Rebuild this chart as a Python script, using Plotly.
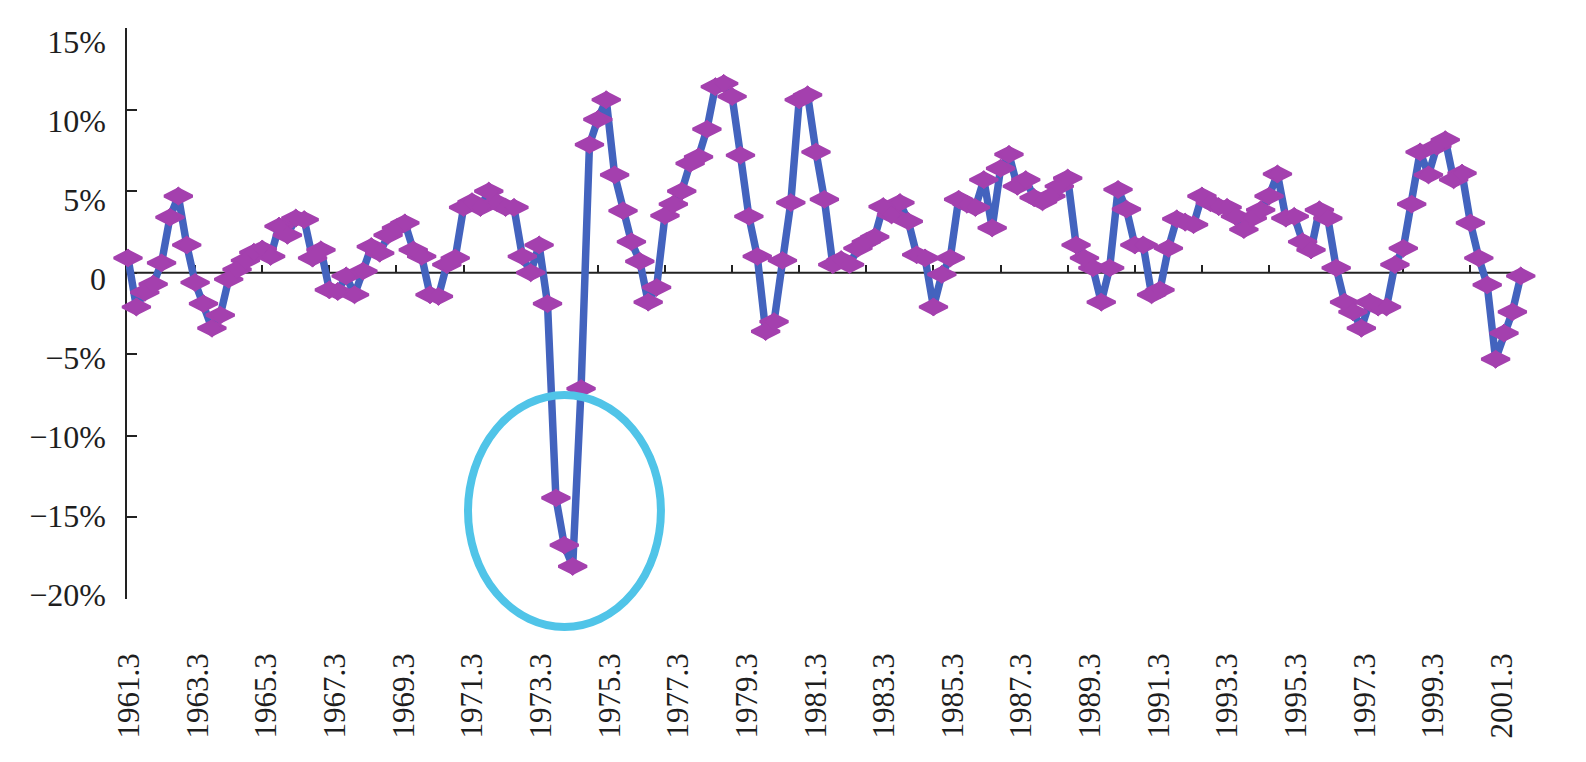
import plotly.graph_objects as go

# Quarterly growth rate (%), starting 1961.3
values = [
    0.9, -2.1, -1.2, -0.7, 0.6, 3.4, 4.7, 1.7, -0.6, -1.9,
    -3.4, -2.6, -0.4, 0.2, 0.75, 1.25, 1.45, 1.0, 2.85, 2.3,
    3.35, 3.25, 0.9, 1.4, -1.05, -1.15, -0.2, -1.35, 0.1, 1.6,
    1.2, 2.3, 2.75, 3.05, 1.4, 1.0, -1.35, -1.45, 0.5, 0.9,
    4.0, 4.35, 4.0, 5.0, 4.3, 4.0, 4.0, 1.0, 0.0, 1.7,
    -1.9, -13.8, -16.7, -18.0, -7.1, 7.85, 9.4, 10.6, 6.0, 3.8,
    1.9, 0.7, -1.8, -0.9, 3.5, 4.2, 5.0, 6.7, 7.1, 8.8,
    11.4, 11.6, 10.8, 7.2, 3.45, 1.0, -3.6, -3.0, 0.75, 4.3,
    10.6, 10.9, 7.4, 4.5, 0.5, 0.8, 0.5, 1.5, 1.9, 2.2,
    4.05, 3.55, 4.3, 3.15, 1.1, 0.9, -2.1, -0.1, 0.9, 4.5,
    4.2, 4.0, 5.7, 2.75, 6.4, 7.25, 5.3, 5.7, 4.6, 4.35,
    4.7, 5.3, 5.8, 1.7, 0.9, 0.3, -1.8, 0.3, 5.1, 3.9,
    1.7, 1.7, -1.35, -1.05, 1.5, 3.3, 3.1, 2.95, 4.7, 4.3,
    4.05, 4.0, 3.45, 2.65, 3.35, 3.85, 4.7, 6.05, 3.35, 3.45,
    1.9, 1.4, 3.85, 3.35, 0.3, -1.8, -2.4, -3.4, -1.8, -2.1,
    -2.1, 0.5, 1.5, 4.2, 7.4, 6.0, 7.75, 8.15, 5.7, 6.1,
    3.05, 0.9, -0.75, -5.3, -3.7, -2.4, -0.2,
]
quarter_index = list(range(len(values)))

x_tick_labels = ["1961.3", "1963.3", "1965.3", "1967.3", "1969.3", "1971.3",
                 "1973.3", "1975.3", "1977.3", "1979.3", "1981.3", "1983.3",
                 "1985.3", "1987.3", "1989.3", "1991.3", "1993.3", "1995.3",
                 "1997.3", "1999.3", "2001.3"]
x_tick_pos = [8 * k for k in range(len(x_tick_labels))]

y_tick_vals = [15, 10, 5, 0, -5, -10, -15, -20]
y_tick_text = ["15%", "10%", "5%", "0", "\u22125%", "\u221210%", "\u221215%", "\u221220%"]

LINE = "#4363BE"
MARK = "#A440AE"
AX = "#222222"
SERIF = "Liberation Serif, Times New Roman, serif"
XFONT = dict(family=SERIF, size=31, color="#1e1e1e")
YFONT = dict(family=SERIF, size=32, color="#1e1e1e")

fig = go.Figure()
fig.add_trace(go.Scatter(
    x=quarter_index, y=values, mode="lines+markers",
    line=dict(color=LINE, width=7.5),
    marker=dict(symbol="diamond-wide", size=20, color=MARK,
                line=dict(color=MARK, width=3)),
    cliponaxis=False, showlegend=False,
))
# second, more compact diamond on the same points to give the markers their chunky look
fig.add_trace(go.Scatter(
    x=quarter_index, y=values, mode="markers",
    marker=dict(symbol="diamond", size=14, color=MARK,
                line=dict(color=MARK, width=1)),
    cliponaxis=False, showlegend=False, hoverinfo="skip",
))

fig.update_layout(
    width=1586, height=762, autosize=False,
    margin=dict(l=126, r=56, t=28, b=163),
    paper_bgcolor="white", plot_bgcolor="white",
    showlegend=False,
    xaxis=dict(
        range=[-0.238, 167.1], anchor="free", position=20 / 35, side="top",
        showline=False,
        ticks="outside", ticklen=8, tickwidth=2, tickcolor=AX,
        tickvals=[8 * k for k in range(1, 21)], showticklabels=False,
        showgrid=False, zeroline=False, layer="below traces",
    ),
    xaxis2=dict(
        overlaying="x", anchor="y", side="bottom",
        range=[-0.35, 163.27],
        tickvals=x_tick_pos, ticktext=x_tick_labels, tickangle=-90,
        tickfont=XFONT, ticks="", showline=False, showgrid=False,
        zeroline=False, ticklabelstandoff=47,
    ),
    yaxis=dict(
        range=[-20, 15], anchor="free", position=0,
        showline=True, linecolor=AX, linewidth=2,
        ticks="inside", ticklen=10, tickwidth=2, tickcolor=AX,
        tickvals=y_tick_vals, showticklabels=False,
        showgrid=False, zeroline=False, layer="below traces",
    ),
    yaxis2=dict(
        overlaying="y", anchor="free", position=0, side="left",
        range=[-20.25, 15.886],
        tickvals=y_tick_vals, ticktext=y_tick_text, tickfont=YFONT,
        ticks="", showline=False, showgrid=False, zeroline=False,
        ticklabelstandoff=20,
    ),
    shapes=[
        # horizontal category axis line crossing at 0
        dict(type="line", xref="paper", yref="y", x0=0, x1=0.9879, y0=0, y1=0,
             line=dict(color=AX, width=2), layer="below"),
        # highlight ellipse
        dict(type="circle", xref="paper", yref="paper",
             x0=0.2436, x1=0.3810, y0=-0.049, y1=0.3573,
             line=dict(color="#50C4E8", width=8), layer="above"),
    ],
)
# invisible helper trace so that xaxis2 / yaxis2 are drawn
fig.add_trace(go.Scatter(x=[0], y=[0], xaxis="x2", yaxis="y2", mode="markers",
                         marker=dict(opacity=0), hoverinfo="skip", showlegend=False))

fig.write_html("out.html")
